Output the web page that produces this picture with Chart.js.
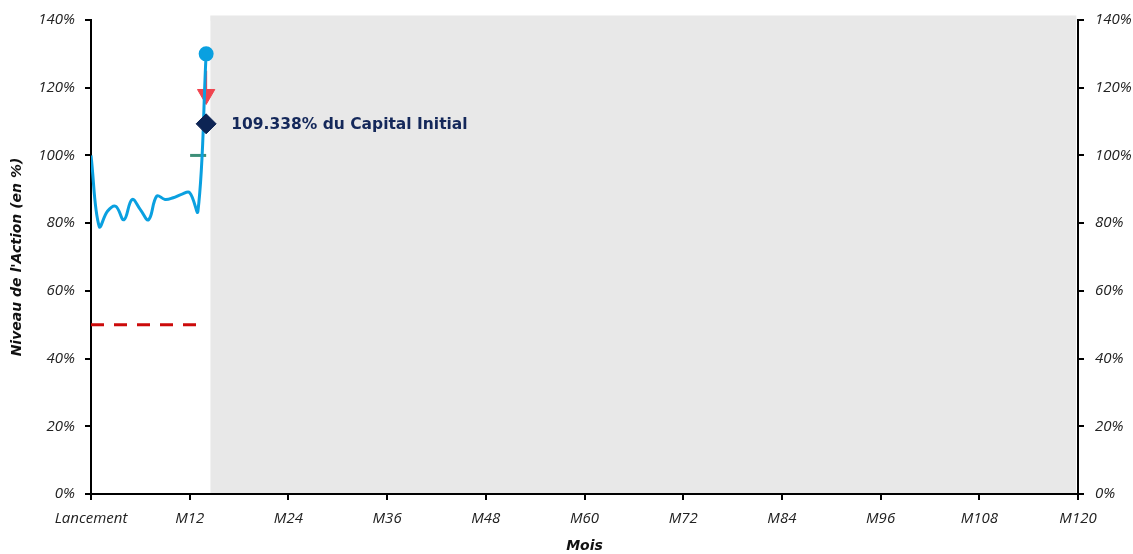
<!DOCTYPE html>
<html>
<head>
<meta charset="utf-8">
<script src="https://cdn.jsdelivr.net/npm/chart.js@4/dist/chart.umd.min.js"></script>
<style>
html,body{margin:0;padding:0;background:#fff;}
#wrap{width:1133px;height:554px;position:relative;}
</style>
</head>
<body>
<div id="wrap"><canvas id="c" width="1133" height="554"></canvas></div>
<script>
// ---- data ----
const months = [0,1,2,3,4,5,6,7,8,9,10,11,12,13,14];
const stockLevel = [100,79,83.5,85,81,87,84,81,88,87,87.5,88.5,89,83.5,130];
const barrierLevel = 50;
const barrierRange = [0, 13];
const autocallLevel = 100;
const autocallRange = [12.05, 14];
const couponMonth = 14;
const couponLevel = 118;
const couponLineTop = 125;
const capitalMonth = 14;
const capitalLevel = 109.338;
const capitalLabel = '109.338% du Capital Initial';
const futureRange = [14.5, 119.8];
const futureTop = 140;
const futureEdge = 140.6;
const yMax = 140;
const xTickValues = [0,12,24,36,48,60,72,84,96,108,120];
const xTickLabels = ['Lancement','M12','M24','M36','M48','M60','M72','M84','M96','M108','M120'];
const yTickValues = [0,20,40,60,80,100,120,140];

const TICK_FONT = '"Open Sans", "Noto Sans", sans-serif';
const LABEL_FONT = '"DejaVu Sans", "Open Sans", sans-serif';
const TITLE_FONT = '"DejaVu Sans", "Liberation Sans", sans-serif';

const labelPlugin = {
  id: 'capLabel',
  afterDatasetsDraw(chart) {
    const {ctx, scales} = chart;
    const x = scales.x.getPixelForValue(capitalMonth);
    const y = scales.y.getPixelForValue(capitalLevel);
    ctx.save();
    ctx.font = 'bold 15.5px ' + LABEL_FONT;
    ctx.fillStyle = '#14285a';
    ctx.textBaseline = 'middle';
    ctx.textAlign = 'left';
    ctx.fillText(capitalLabel, x + 25, y + 1);
    ctx.restore();
  }
};

const tickFont = {family: TICK_FONT, size: 15, style: 'italic'};
const titleFont = {family: TITLE_FONT, size: 14, style: 'italic', weight: 'bold'};

new Chart(document.getElementById('c'), {
  type: 'line',
  data: {
    datasets: [
      {
        label: 'capital',
        data: [{x: capitalMonth, y: capitalLevel}],
        showLine: false,
        pointStyle: 'rectRot',
        pointRadius: 10,
        backgroundColor: '#0d2454',
        borderColor: '#0d2454',
        order: 0
      },
      {
        label: 'stock',
        data: months.map((m, i) => ({x: m, y: stockLevel[i]})),
        borderColor: '#0aa0e0',
        backgroundColor: '#0aa0e0',
        borderWidth: 3,
        tension: 0.4,
        pointRadius: ctx => ctx.dataIndex === months.length - 1 ? 6 : 0,
        pointHoverRadius: 0,
        order: 1
      },
      {
        label: 'coupon',
        data: [{x: couponMonth, y: couponLevel}],
        showLine: false,
        pointStyle: 'triangle',
        rotation: 180,
        pointRadius: 10,
        backgroundColor: '#f0444f',
        borderColor: '#f0444f',
        order: 2
      },
      {
        label: 'couponLine',
        data: [{x: couponMonth, y: couponLineTop}, {x: couponMonth, y: couponLevel}],
        borderColor: '#f0444f',
        borderWidth: 2,
        pointRadius: 0,
        order: 3
      },
      {
        label: 'autocall',
        data: autocallRange.map(m => ({x: m, y: autocallLevel})),
        borderColor: '#3d8f78',
        borderWidth: 3,
        pointRadius: 0,
        order: 4
      },
      {
        label: 'barrier',
        data: barrierRange.map(m => ({x: m, y: barrierLevel})),
        borderColor: '#cc0a0a',
        borderWidth: 3,
        borderDash: [13, 10],
        pointRadius: 0,
        order: 5
      },
      {
        label: 'futureEdge',
        data: futureRange.map(m => ({x: m, y: futureEdge})),
        borderWidth: 5,
        borderColor: '#e8e8e8',
        borderCapStyle: 'butt',
        pointRadius: 0,
        clip: false,
        order: 9
      },
      {
        label: 'future',
        data: futureRange.map(m => ({x: m, y: futureTop})),
        borderWidth: 0,
        borderColor: 'rgba(0,0,0,0)',
        backgroundColor: '#e8e8e8',
        fill: 'origin',
        pointRadius: 0,
        order: 10
      }
    ]
  },
  options: {
    responsive: false,
    animation: false,
    events: [],
    layout: {padding: {top: 20, left: 0, right: 0, bottom: 0}},
    plugins: {legend: {display: false}, tooltip: {enabled: false}, filler: {drawTime: 'beforeDraw'}},
    scales: {
      x: {
        type: 'linear',
        min: 0, max: 120,
        afterBuildTicks: s => { s.ticks = xTickValues.map(v => ({value: v})); },
        afterFit: s => { s.height = 60; },
        ticks: {
          autoSkip: false, maxRotation: 0,
          color: '#222', font: tickFont, padding: 10,
          callback: v => xTickLabels[xTickValues.indexOf(v)]
        },
        grid: {drawOnChartArea: false, drawTicks: true, tickLength: 6, color: '#000', lineWidth: 2},
        border: {color: '#000', width: 2},
        title: {display: true, text: 'Mois', color: '#111', font: titleFont, padding: {top: 6, bottom: -1}}
      },
      y: {
        position: 'left',
        min: 0, max: yMax,
        afterBuildTicks: s => { s.ticks = yTickValues.map(v => ({value: v})); },
        afterFit: s => { s.width = 91; },
        ticks: {color: '#222', font: tickFont, padding: 10, callback: v => v + '%'},
        grid: {drawOnChartArea: false, tickLength: 6, color: '#000', lineWidth: 2},
        border: {color: '#000', width: 2},
        title: {display: true, text: "Niveau de l'Action (en %)", color: '#111', font: titleFont, padding: {top: 9, bottom: 0}}
      },
      y2: {
        position: 'right',
        min: 0, max: yMax,
        afterBuildTicks: s => { s.ticks = yTickValues.map(v => ({value: v})); },
        afterFit: s => { s.width = 55; },
        ticks: {color: '#222', font: tickFont, padding: 11, callback: v => v + '%'},
        grid: {drawOnChartArea: false, tickLength: 6, color: '#000', lineWidth: 2},
        border: {color: '#000', width: 2}
      }
    }
  },
  plugins: [labelPlugin]
});
</script>
</body>
</html>
